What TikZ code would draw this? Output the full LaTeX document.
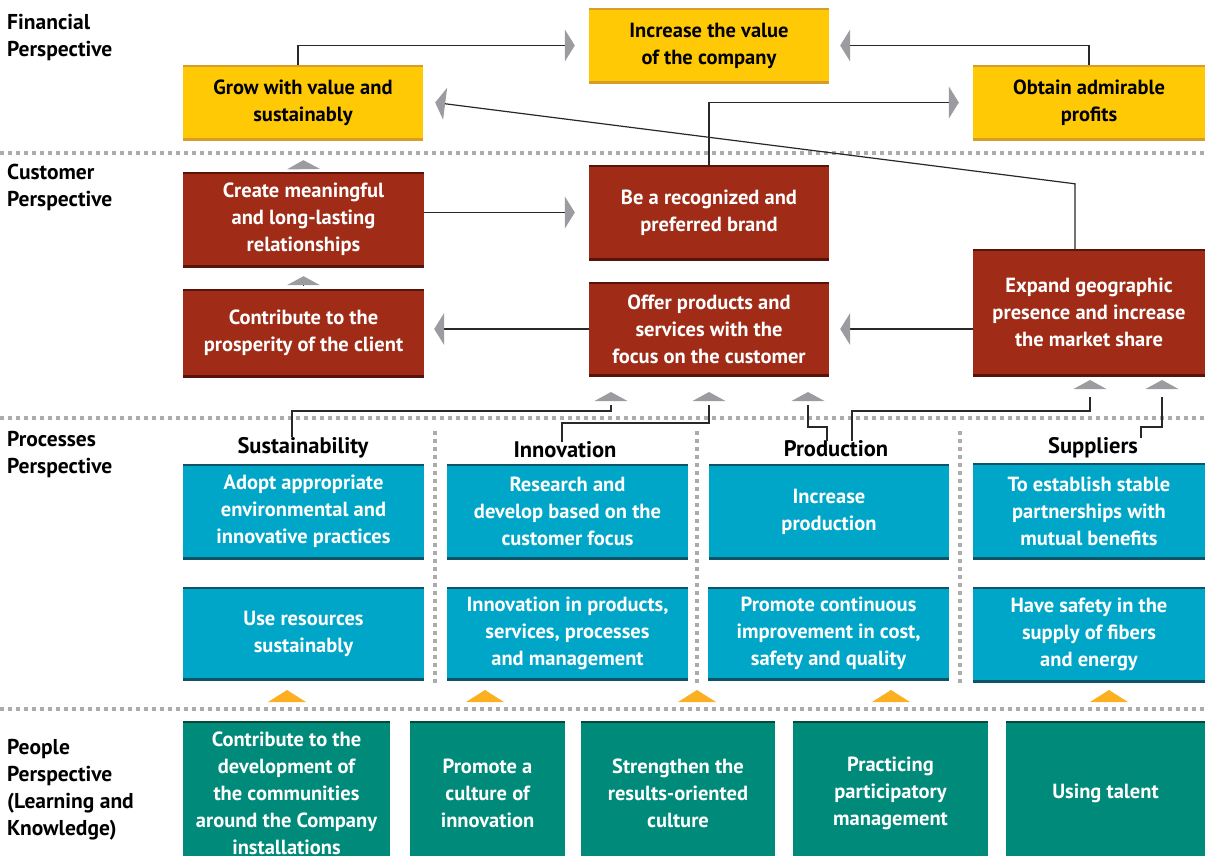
\documentclass[tikz,border=0pt]{standalone}
\usepackage{fontspec}
\setmainfont{PT Sans}
\usetikzlibrary{arrows.meta,calc}
\definecolor{cY}{RGB}{255,201,5}
\definecolor{cYb}{RGB}{214,158,40}
\definecolor{cR}{RGB}{160,44,24}
\definecolor{cRb}{RGB}{88,20,10}
\definecolor{cC}{RGB}{0,166,200}
\definecolor{cCb}{RGB}{12,84,104}
\definecolor{cT}{RGB}{0,138,122}
\definecolor{cTb}{RGB}{8,72,56}
\definecolor{cG}{RGB}{155,155,160}
\definecolor{cDot}{RGB}{172,172,172}
\definecolor{cO}{RGB}{252,176,33}
\definecolor{cLine}{RGB}{40,40,40}
\tikzset{
  box/.style={rectangle, inner sep=0pt, align=center, font=\fontsize{20.5}{27}\selectfont\bfseries},
  edges/.style={path picture={\draw[#1,line width=4pt] (path picture bounding box.north west) -- (path picture bounding box.north east) (path picture bounding box.south west) -- (path picture bounding box.south east);}},
  ybox/.style={box, fill=cY, text=black, edges=cYb},
  rbox/.style={box, fill=cR, text=white, edges=cRb},
  cbox/.style={box, fill=cC, text=white, edges=cCb},
  tbox/.style={box, fill=cT, text=white, edges=cTb},
  head/.style={inner sep=0pt, font=\fontsize{22.5}{26}\selectfont\bfseries, text=black},
  side/.style={inner sep=0pt, anchor=west, align=left, font=\fontsize{21.5}{27}\selectfont\bfseries, text=black},
  conn/.style={draw=cLine, line width=1.2pt},
  sarrow/.style={conn, -{Triangle[width=32pt,length=10pt,color=cG]}},
  uarrow/.style={conn, -{Triangle[width=33pt,length=9pt,color=cG]}},
  dotline/.style={draw=cDot, line width=4pt, dash pattern=on 4pt off 4pt},
  utri/.pic={\fill[cG] (-16.5,0) -- (16.5,0) -- (0,-9) -- cycle;},
  otri/.pic={\fill[cO] (-19,0) -- (19,0) -- (0,-12) -- cycle;}
}
\begin{document}
\begin{tikzpicture}[x=1pt,y=-1pt]
\useasboundingbox (0,0) rectangle (1205,855);
\clip (0,0) rectangle (1205,855);

% separators
\draw[dotline] (0,153) -- (1205,153);
\draw[dotline] (0,418) -- (1205,418);
\draw[dotline] (0,709) -- (1205,709);
\draw[dotline] (435,431) -- (435,683);
\draw[dotline] (697,431) -- (697,683);
\draw[dotline] (960,431) -- (960,683);

% side labels
\node[side] (lf) at (7,38) {Financial\\Perspective};
\node[side] (lc) at (7,187) {Customer\\Perspective};
\node[side] (lp) at (7,455) {Processes\\Perspective};
\node[side] (lk) at (7,790) {People\\Perspective\\(Learning and\\Knowledge)};

% financial
\node[ybox, minimum width=240pt, minimum height=75pt] (inc) at (709,45.5) {Increase the value\\of the company};
\node[ybox, minimum width=240pt, minimum height=75pt] (grow) at (303,102.5) {Grow with value and\\sustainably};
\node[ybox, minimum width=232pt, minimum height=75pt] (obt) at (1089,102.5) {Obtain admirable\\profits};

% customer
\node[rbox, minimum width=241pt, minimum height=95pt] (create) at (303.5,219.5) {Create meaningful\\and long-lasting\\relationships};
\node[rbox, minimum width=240pt, minimum height=95pt] (brand) at (709,212.5) {Be a recognized and\\preferred brand};
\node[rbox, minimum width=241pt, minimum height=88pt] (contrib) at (303.5,333) {Contribute to the\\prosperity of the client};
\node[rbox, minimum width=240pt, minimum height=94pt] (offer) at (709,329) {Offer products and\\services with the\\focus on the customer};
\node[rbox, minimum width=232pt, minimum height=127pt] (expand) at (1089,312.5) {Expand geographic\\presence and increase\\the market share};

% processes headings
\node[head] (hs) at (303,448) {Sustainability};
\node[head] (hi) at (565,450) {Innovation};
\node[head] (hp) at (836,449) {Production};
\node[head] (hsu) at (1093,448) {Suppliers};

% processes boxes
\node[cbox, minimum width=241pt, minimum height=95pt] (p11) at (303.5,511.5) {Adopt appropriate\\environmental and\\innovative practices};
\node[cbox, minimum width=241pt, minimum height=95pt] (p12) at (567.5,511.5) {Research and\\develop based on the\\customer focus};
\node[cbox, minimum width=240pt, minimum height=95pt] (p13) at (829,511.5) {Increase\\production};
\node[cbox, minimum width=232pt, minimum height=96pt] (p14) at (1089,511) {To establish stable\\partnerships with\\mutual benefits};
\node[cbox, minimum width=241pt, minimum height=93pt] (p21) at (303.5,633.5) {Use resources\\sustainably};
\node[cbox, minimum width=241pt, minimum height=93pt] (p22) at (567.5,633.5) {Innovation in products,\\services, processes\\and management};
\node[cbox, minimum width=241pt, minimum height=93pt] (p23) at (828.5,633.5) {Promote continuous\\improvement in cost,\\safety and quality};
\node[cbox, minimum width=232pt, minimum height=95pt] (p24) at (1089,634.5) {Have safety in the\\supply of fibers\\and energy};

% people
\node[tbox, minimum width=207pt, minimum height=144pt] (q1) at (286.5,793) {Contribute to the\\development of\\the communities\\around the Company\\installations};
\node[tbox, minimum width=155pt, minimum height=144pt] (q2) at (487.5,793) {Promote a\\culture of\\innovation};
\node[tbox, minimum width=194pt, minimum height=144pt] (q3) at (678,793) {Strengthen the\\results-oriented\\culture};
\node[tbox, minimum width=195pt, minimum height=144pt] (q4) at (890.5,793) {Practicing\\participatory\\management};
\node[tbox, minimum width=199pt, minimum height=144pt] (q5) at (1105.5,793) {Using talent};

% financial connectors
\draw[sarrow] ([xshift=-5pt]grow.north) |- ($(inc.west)+(-14,0)$);
\draw[sarrow] (obt.north) |- ($(inc.east)+(11,0)$);
\draw[sarrow] (brand.north) |- ($(obt.west)+(-14,0)$);
\draw[sarrow] ([xshift=-14pt]expand.north) -- ++(0,-65) -- ($(grow.east)+(12,0)$);

% customer connectors
\draw[sarrow, shorten >=14pt] (create.east |- brand.west) -- (brand.west);
\draw[sarrow, shorten >=10pt] (offer.west) -- (contrib.east |- offer.west);
\draw[sarrow, shorten >=11pt] (expand.west |- offer.east) -- (offer.east);
\draw[uarrow, shorten <=4pt, shorten >=9pt] (contrib.north) -- (create.south);
\draw[uarrow, shorten <=4pt, shorten >=20pt] (create.north) -- (grow.south);

% processes -> customer
\coordinate (u1) at (611,401);
\coordinate (u2) at (709,401);
\coordinate (u3) at (808,401);
\coordinate (u4) at (1090,389);
\coordinate (u5) at (1162,389);
\draw[conn] ([xshift=-11pt]hs.north) |- ($(u1)+(0,10)$) -- ($(u1)+(0,4)$);
\draw[conn] ([xshift=-3pt]hi.north) |- ($(u2)+(0,22)$) -- ($(u2)+(0,4)$);
\draw[conn] ([xshift=-9pt]hp.north) |- ($(u3)+(0,26)$) -- ($(u3)+(0,4)$);
\draw[conn] ([xshift=16pt]hp.north) |- ($(u4)+(0,22)$) -- ($(u4)+(0,8)$);
\draw[conn] ([xshift=48pt]hsu.north) |- ($(u5)+(0,38)$) -- ($(u5)+(0,8)$);
\foreach \c in {u1,u2,u3,u4,u5} \pic at (\c) {utri};

% people -> processes
\coordinate (o1) at (287,702);
\coordinate (o2) at (485,702);
\coordinate (o3) at (697,702);
\coordinate (o4) at (891,702);
\coordinate (o5) at (1109,702);
\foreach \c in {o1,o2,o3,o4,o5} \pic at (\c) {otri};
\end{tikzpicture}
\end{document}
